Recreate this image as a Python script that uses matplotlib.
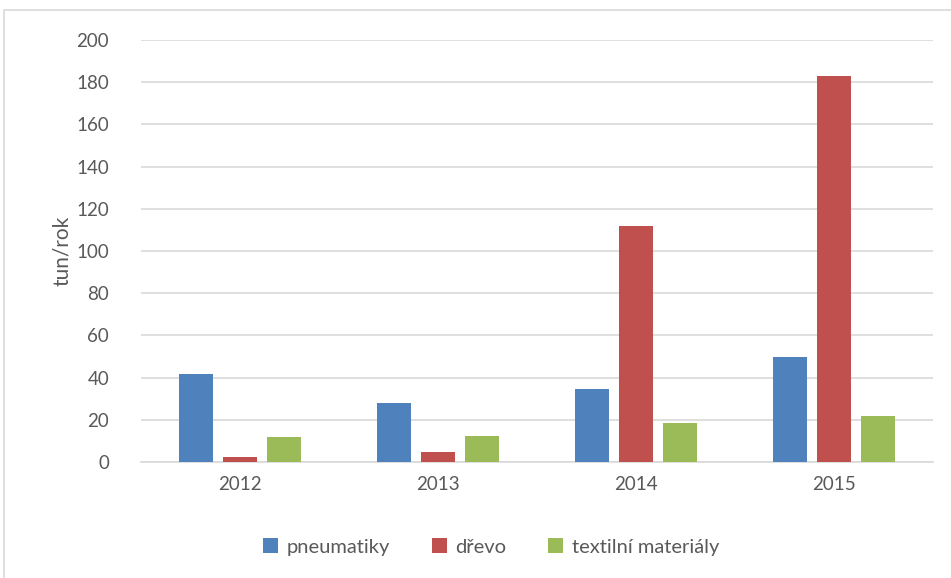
import matplotlib.pyplot as plt
import numpy as np
from matplotlib.patches import Rectangle

years = ['2012', '2013', '2014', '2015']
series_names = ['pneumatiky', 'dřevo', 'textilní materiály']
pneumatiky = [41.6, 27.8, 34.6, 49.8]
drevo = [2.4, 4.7, 111.7, 183.1]
textil = [11.9, 12.4, 18.4, 21.8]
colors = ['#4f81bd', '#c0504d', '#9bbb59']

plt.rcParams['font.family'] = ['Lato', 'DejaVu Sans']
text_color = '#595959'

fig = plt.figure(figsize=(9.51, 5.78), dpi=100)
ax = fig.add_axes([141 / 951, (578 - 462) / 578, 792 / 951, 422 / 578])

x = np.arange(len(years))
width = 0.172
step = 0.222
for i, (vals, name) in enumerate(zip([pneumatiky, drevo, textil], series_names)):
    ax.bar(x + (i - 1) * step, vals, width, color=colors[i], label=name, zorder=3)

ax.set_xlim(-0.5, len(years) - 0.5)
ax.set_ylim(0, 200)
ax.set_yticks(range(0, 201, 20))
ax.set_xticks(x)
ax.set_xticklabels(years)
ax.grid(axis='y', color='#d9d9d9', linewidth=1.2, zorder=0)
for s in ['top', 'right', 'left']:
    ax.spines[s].set_visible(False)
ax.spines['bottom'].set_color('#d9d9d9')
ax.spines['bottom'].set_linewidth(1.2)
ax.tick_params(axis='both', length=0, colors=text_color, labelsize=13.5)
ax.tick_params(axis='y', pad=23)
ax.tick_params(axis='x', pad=10)
ax.set_ylabel('tun/rok', color=text_color, fontsize=15, labelpad=3)

fig.legend(loc='center', bbox_to_anchor=(491 / 951, 1 - 547 / 578), ncol=3,
           frameon=False, fontsize=14.5, labelcolor=text_color,
           handlelength=0.75, handleheight=0.75, handletextpad=0.4, columnspacing=2.1)

# chart border
fig.patches.append(Rectangle((4 / 951, -0.01), 1.0, 1 - 10 / 578 + 0.01,
                             transform=fig.transFigure, fill=False,
                             edgecolor='#d9d9d9', linewidth=1.2))

fig.savefig('out.png', dpi=100)
